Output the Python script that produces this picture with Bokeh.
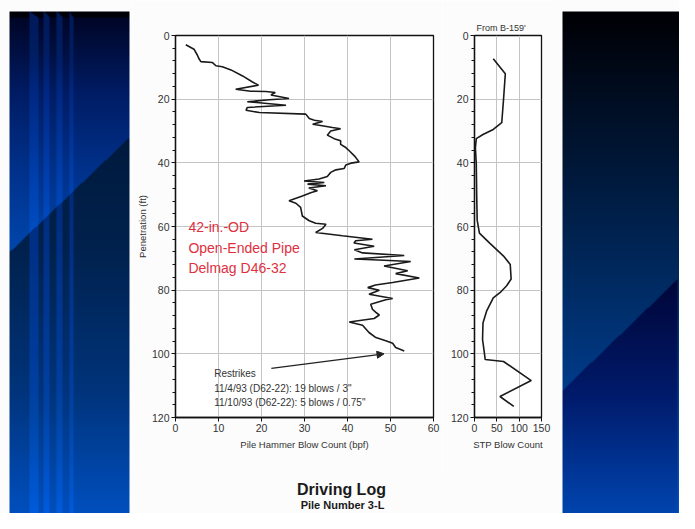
import numpy as np
from bokeh.plotting import figure
from bokeh.layouts import row, column
from bokeh.models import Range1d, Label, Arrow, NormalHead, FixedTicker
from bokeh.core.properties import value
from bokeh.embed import file_html
from bokeh.resources import INLINE

# ---------------- data ----------------
depth_ft = [2.9, 4.3, 6.2, 7.4, 8.2, 8.5, 9.5, 9.8, 10.8, 12.7,
            14.6, 15.6, 16.9, 17.5, 17.6, 17.9, 18.7, 19.8, 20.2, 20.8,
            21.9, 22.6, 23.5, 24.2, 24.7, 26.1, 26.6, 27.0, 27.9, 28.2,
            28.9, 29.3, 30.0, 31.3, 32.4, 33.1, 34.2, 35.2, 36.2,
            37.8, 39.7, 40.1, 40.7, 41.8, 42.2, 43.0, 44.3, 45.1, 45.7,
            46.2, 46.7, 47.2, 47.9, 48.8, 49.3, 50.4, 51.9, 52.7, 54.0,
            56.7, 58.2, 59.0, 59.3, 60.6, 61.9, 62.9, 64.0, 64.5, 65.2,
            66.2, 67.3, 68.3, 69.1, 70.2, 70.6, 71.0, 72.4, 73.9, 74.8,
            76.2, 77.6, 78.4, 79.2, 80.0, 81.3, 82.6, 83.0, 84.4, 86.0,
            87.0, 87.8, 88.9, 90.0, 91.0, 93.3, 94.9, 95.9, 96.7, 98.0,
            99.1]
hammer_bpf = [2.4, 4.3, 5.1, 5.5, 5.9, 8.6, 9.4, 10.9, 12.9, 15.6,
              17.9, 19.3, 14.0, 17.5, 21.0, 23.2, 22.2, 26.4, 21.8, 16.7,
              25.7, 16.7, 16.4, 19.5, 30.3, 31.1, 32.3, 34.2, 31.9, 33.4,
              36.5, 38.4, 36.1, 35.3, 36.9, 38.4, 38.4, 39.6, 40.4,
              41.6, 42.7, 40.8, 39.6, 39.2, 37.3, 36.1, 35.3, 33.4, 29.9,
              34.6, 30.7, 35.0, 31.0, 33.0, 31.6, 29.5, 26.4, 28.0, 29.1,
              29.5, 31.1, 32.6, 35.0, 34.2, 32.6, 38.8, 45.8, 41.9, 41.5,
              46.2, 41.6, 43.5, 53.2, 41.6, 48.5, 54.7, 48.5, 54.0, 51.2,
              56.7, 50.5, 46.5, 44.7, 47.4, 45.0, 50.5, 48.9, 45.4, 45.8,
              46.6, 47.4, 46.2, 40.4, 43.5, 45.0, 46.6, 48.9, 50.5, 51.2,
              53.2]

stp_depth_ft = [7.3, 12.0, 20.1, 27.4, 29.5, 31.1, 32.4, 35.3, 40.4, 50.7,
                58.0, 62.1, 65.2, 69.3, 71.9, 76.5, 78.6, 80.8, 82.4, 86.6,
                90.3, 95.5, 98.5, 101.8, 102.4, 108.4, 113.4, 116.5]
stp_blows = [42, 69, 65, 61, 42, 19, 4, 2, 4, 5,
             6, 11, 34, 65, 80, 82, 72, 57, 42, 27,
             19, 18, 21, 24, 65, 127, 57, 88]

hammer_x_ticks = [0, 10, 20, 30, 40, 50, 60]
depth_ticks = [0, 20, 40, 60, 80, 100, 120]
depth_minor_ticks = list(range(0, 121, 4))
stp_x_ticks = [0, 50, 100, 150]

pile_notes = ["42-in.-OD", "Open-Ended Pipe", "Delmag D46-32"]
restrike_notes = ["Restrikes",
                  "11/4/93 (D62-22): 19 blows / 3\"",
                  "11/10/93 (D62-22): 5 blows / 0.75\""]
title_main = "Driving Log"
title_sub = "Pile Number 3-L"
stp_title = "From B-159'"

FONT = "Liberation Sans"
H = 513          # whole canvas height
HP = 473         # height of the two chart panels
PAGE_BG = (252, 252, 252)


# ---------------- decorative slide panels ----------------
def grad(pos, stops):
    ps = [s[0] for s in stops]
    out = np.zeros(pos.shape + (3,))
    for c in range(3):
        out[..., c] = np.interp(pos, ps, [s[1][c] for s in stops])
    return out


def to_rgba(col):
    h, w, _ = col.shape
    img = np.zeros((h, w), dtype=np.uint32)
    v = img.view(dtype=np.uint8).reshape((h, w, 4))
    v[..., :3] = np.clip(col, 0, 255).astype(np.uint8)
    v[..., 3] = 255
    return img[::-1]


def bare_fig(w, h):
    f = figure(width=w, height=h, x_range=Range1d(0, w), y_range=Range1d(0, h),
               output_backend="svg", toolbar_location=None,
               x_axis_location=None, y_axis_location=None, min_border=0,
               frame_align=False)
    f.title.visible = False
    f.grid.visible = False
    f.outline_line_color = None
    f.background_fill_color = "#fcfcfc"
    f.border_fill_color = "#fcfcfc"
    return f


def deco_fig(w, img):
    f = bare_fig(w, H)
    f.image_rgba(image=[img], x=0, y=0, dw=w, dh=H)
    return f


# left panel (page x 8..140)
WL = 132
PX, PY = np.meshgrid(8 + np.arange(WL) + 0.5, 8 + np.arange(H) + 0.5)
col = np.zeros((H, WL, 3)) + PAGE_BG
inside = (PX >= 17) & (PX < 137) & (PY >= 19) & (PY < 524)
lower = grad(PY, [(19, (0, 0, 16)), (150, (0, 26, 62)), (260, (0, 34, 78)),
                  (400, (0, 52, 124)), (524, (0, 80, 192))])
upper = grad(PY, [(19, (0, 0, 10)), (26, (0, 6, 40)), (100, (0, 28, 100)),
                  (180, (0, 50, 140)), (257, (0, 70, 172))])
yd = 257 - 0.957 * (PX - 20)
panel = np.where((PY < yd)[..., None], upper, lower)
panel = np.where(((PY < 25.5))[..., None], np.array([0, 0, 8.0]), panel)
stripe_min = grad(PY, [(19, (0, 26, 90)), (524, (0, 74, 184))])
stripe_col = np.maximum(panel + np.array([0, 12, 30.0]), stripe_min)
for a, b in [(37, 46), (51, 57.5), (64, 70), (77, 81)]:
    m = (PX >= a) & (PX < b) & (PY >= 19 + (PX - a) * 6.0 / (b - a))
    panel = np.where(m[..., None], stripe_col, panel)
col = np.where(inside[..., None], panel, col)
left_fig = deco_fig(WL, to_rgba(col))

# right panel (page x 565..687)
WR = 122
PX, PY = np.meshgrid(565 + np.arange(WR) + 0.5, 8 + np.arange(H) + 0.5)
col = np.zeros((H, WR, 3)) + PAGE_BG
inside = (PX >= 570) & (PY >= 19) & (PY < 524)
base = grad(PY, [(19, (0, 0, 4)), (150, (0, 20, 48)), (287, (0, 42, 96)),
                 (400, (0, 60, 140)), (524, (0, 82, 196))])
low = grad(PY, [(287, (0, 6, 56)), (400, (0, 26, 106)), (524, (0, 70, 176))])
yd = 398 - (PX - 570) * (111.0 / 115.0)
panel = np.where(((PY > yd) & (PX < 685))[..., None], low, base)
col = np.where(inside[..., None], panel, col)
right_fig = deco_fig(WR, to_rgba(col))


# ---------------- plots ----------------
def style_axes(f):
    f.background_fill_color = "white"
    f.border_fill_color = "#fcfcfc"
    f.outline_line_color = "#111111"
    f.outline_line_width = 1.3
    f.grid.grid_line_color = "#c4c4c4"
    f.grid.grid_line_width = 1
    for ax in f.axis:
        ax.axis_line_color = "#111111"
        ax.axis_line_width = 1.3
        ax.major_tick_line_color = "#111111"
        ax.minor_tick_line_color = "#111111"
        ax.major_tick_out = 4
        ax.major_tick_in = 0
        ax.minor_tick_out = 3
        ax.minor_tick_in = 0
        ax.major_label_text_font = FONT
        ax.major_label_text_font_size = "10.5px"
        ax.major_label_text_color = "#333333"
        ax.major_label_standoff = 2
        ax.axis_label_text_font = FONT
        ax.axis_label_text_font_style = "normal"
        ax.axis_label_text_font_size = "9.5px"
        ax.axis_label_text_color = "#333333"
    f.xaxis.minor_tick_line_color = None
    f.xaxis.axis_label_standoff = 4
    f.yaxis.axis_label_standoff = 1


p = figure(width=310, height=HP, x_range=Range1d(0, 60), y_range=Range1d(120, 0),
           output_backend="svg", toolbar_location=None, frame_align=False,
           min_border_left=43, min_border_right=9, min_border_top=35, min_border_bottom=56,
           x_axis_label="Pile Hammer Blow Count (bpf)", y_axis_label="Penetration (ft)")
p.title.visible = False
p.xaxis.ticker = FixedTicker(ticks=hammer_x_ticks)
p.yaxis.ticker = FixedTicker(ticks=depth_ticks, minor_ticks=depth_minor_ticks)
style_axes(p)
p.line(hammer_bpf, depth_ft, line_color="#1a1a1a", line_width=1.6)

for i, t in enumerate(pile_notes):
    p.add_layout(Label(x=3.0, y=60.3 + 6.3 * i, text=t, text_font=FONT, text_font_size="14px",
                       text_color="#e0303e", text_baseline="middle", text_align="left"))
for i, t in enumerate(restrike_notes):
    p.add_layout(Label(x=9.0, y=106.2 + 4.55 * i, text=t, text_font=FONT, text_font_size="10px",
                       text_color="#333333", text_baseline="middle", text_align="left"))
p.add_layout(Arrow(end=NormalHead(size=7, fill_color="#222222", line_color="#222222"),
                   x_start=22.3, y_start=104.6, x_end=48.5, y_end=100.0,
                   line_color="#222222", line_width=1.3))

s = figure(width=115, height=HP, x_range=Range1d(0, 150), y_range=Range1d(120, 0),
           output_backend="svg", toolbar_location=None, frame_align=False,
           min_border_left=32, min_border_right=16, min_border_top=35, min_border_bottom=56,
           x_axis_label="STP Blow Count", title=stp_title)
s.title.align = "left"
s.title.offset = 2
s.title.standoff = 6
s.title.text_font = FONT
s.title.text_font_size = "9px"
s.title.text_font_style = "normal"
s.title.text_color = "#333333"
s.xaxis.ticker = FixedTicker(ticks=stp_x_ticks)
s.yaxis.ticker = FixedTicker(ticks=depth_ticks, minor_ticks=depth_minor_ticks)
style_axes(s)
s.line(stp_blows, stp_depth_ft, line_color="#1a1a1a", line_width=1.6)

# caption strip under the two charts (page x 140..565, y 481..521)
cap = bare_fig(425, H - HP)
cap.text(x=[209], y=[24], text=[title_main], text_font=value(FONT), text_font_size="16px",
         text_font_style="bold", text_color="#1a1a1a", text_align="center",
         text_baseline="middle")
cap.text(x=[210], y=[9], text=[title_sub], text_font=value(FONT), text_font_size="11px",
         text_font_style="bold", text_color="#1a1a1a", text_align="center",
         text_baseline="middle")

middle = column(row(p, s, spacing=0), cap, spacing=0)
layout = row(left_fig, middle, right_fig, spacing=0)
layout.styles = {"box-shadow": "-2px 0px 0 0 #fcfcfc, -3px -1px 0 0 #8c8c8c"}
open("out.html", "w").write(file_html(layout, INLINE))
